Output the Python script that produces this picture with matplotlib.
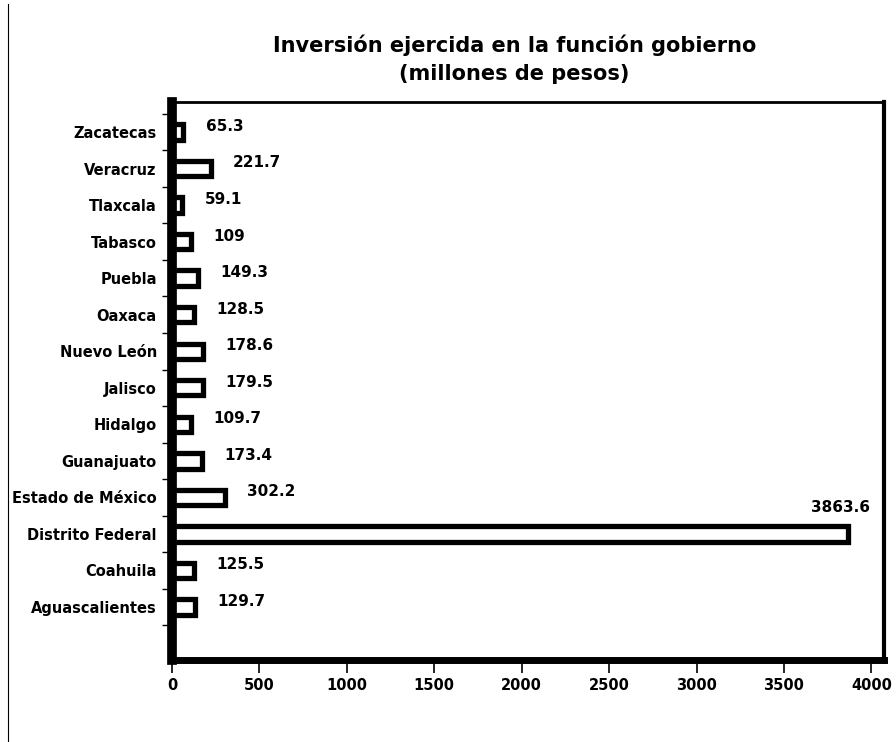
import matplotlib
matplotlib.use("Agg")
import matplotlib.pyplot as plt
import numpy as np

plt.rcParams["font.family"] = ["DejaVu Sans"]
plt.rcParams["font.weight"] = "bold"

# bottom to top, as drawn
states = ["Aguascalientes", "Coahuila", "Distrito Federal", "Estado de México",
          "Guanajuato", "Hidalgo", "Jalisco", "Nuevo León", "Oaxaca", "Puebla",
          "Tabasco", "Tlaxcala", "Veracruz", "Zacatecas"]
values = [129.7, 125.5, 3863.6, 302.2, 173.4, 109.7, 179.5, 178.6, 128.5, 149.3,
          109, 59.1, 221.7, 65.3]
value_labels = ["129.7", "125.5", "3863.6", "302.2", "173.4", "109.7", "179.5",
                "178.6", "128.5", "149.3", "109", "59.1", "221.7", "65.3"]
xticks = [0, 500, 1000, 1500, 2000, 2500, 3000, 3500, 4000]

fig = plt.figure(figsize=(8.96, 7.42), dpi=100)
ax = fig.add_axes([0.192, 0.1105, 0.795, 0.752])

pos = np.arange(len(states))
ax.barh(pos, values, height=0.42, color="white", edgecolor="black", linewidth=3.8)

for y, v, lab in zip(pos, values, value_labels):
    if v > 3000:
        ax.annotate(lab, (v, y), xytext=(16, 19), textcoords="offset points",
                    ha="right", va="center", fontsize=11)
    else:
        ax.annotate(lab, (v, y), xytext=(16, 4), textcoords="offset points",
                    ha="left", va="center", fontsize=11)

ax.set_xlim(0, 4074)
ax.set_ylim(-1.45, 13.82)
ax.set_xticks(xticks)
ax.set_xticklabels([str(t) for t in xticks], fontsize=10.5)
ax.set_yticks(pos)
ax.set_yticklabels(states, fontsize=10.5)
ax.tick_params(axis="y", length=0, pad=11)
ax.set_yticks(np.arange(-0.5, 14, 1), minor=True)
ax.tick_params(axis="y", which="minor", length=7, width=1)
ax.tick_params(axis="x", length=9, width=1.2, pad=4)

ax.spines["top"].set_linewidth(2)
ax.spines["right"].set_linewidth(3)
ax.spines["bottom"].set_linewidth(5)
ax.spines["left"].set_linewidth(7)

fig.text(0.574, 1 - 45 / 742, "Inversión ejercida en la función gobierno",
         ha="center", va="center", fontsize=15)
fig.text(0.574, 1 - 74 / 742, "(millones de pesos)",
         ha="center", va="center", fontsize=15)

fig.add_artist(plt.Line2D([0.009, 0.009], [0.0, 0.995], color="black", linewidth=0.8))

fig.savefig("out.png", dpi=100)
